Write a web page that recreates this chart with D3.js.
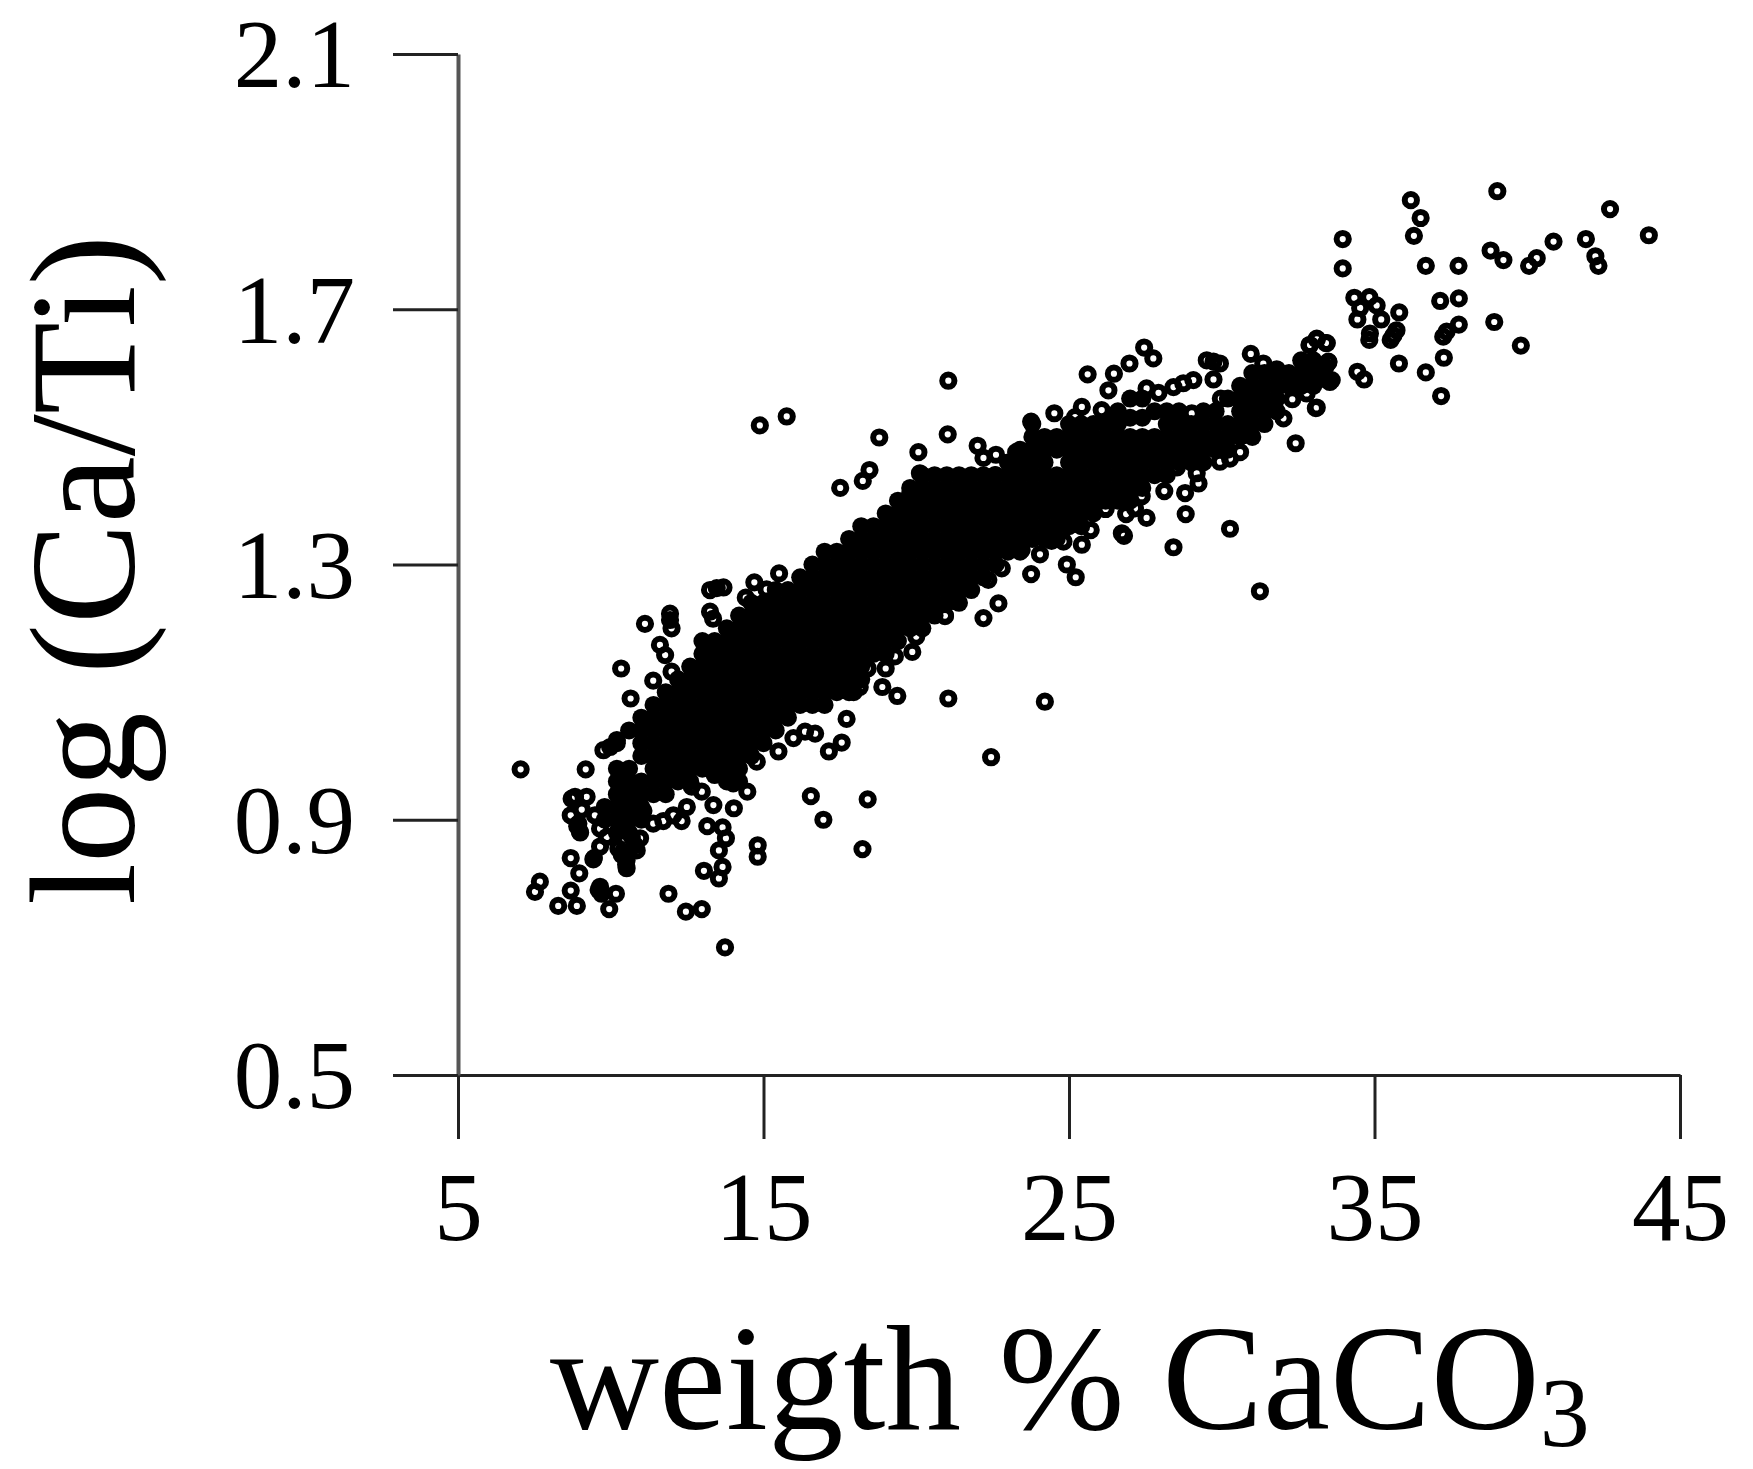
<!DOCTYPE html>
<html>
<head>
<meta charset="utf-8">
<script src="https://d3js.org/d3.v7.min.js"></script>
<style>
  body { margin: 0; background: #fff; }
  svg { display: block; filter: blur(0.5px); }
  text { font-family: "Liberation Serif", serif; fill: #000; }
  .tick text { font-size: 97px; }
  .title { font-size: 151px; }
</style>
</head>
<body>
<div class="scatter"></div>
<script>
/* tick labels */
const xTicks = [5, 15, 25, 35, 45];
const yTicks = [0.5, 0.9, 1.3, 1.7, 2.1];

/* single readable points, [wt% CaCO3, log(Ca/Ti)] */
const highEnd = [
  [39.02,1.885],[36.19,1.871],[36.51,1.843],[36.29,1.815],[33.96,1.810],[33.96,1.764],[36.68,1.768],[37.75,1.768],
  [42.71,1.857],[43.98,1.816],[41.92,1.810],[40.86,1.806],[38.80,1.792],[39.22,1.777],[40.31,1.780],[40.06,1.768],
  [42.23,1.783],[42.33,1.768],[34.34,1.718],[34.83,1.719],[35.07,1.706],[34.53,1.702],[34.44,1.684],[35.22,1.684],
  [35.81,1.695],[37.76,1.717],[37.15,1.713],[37.76,1.676],[37.36,1.665],[37.25,1.657],[38.92,1.680],[39.79,1.643],
  [37.27,1.624],[35.80,1.615],[36.68,1.601],[37.18,1.564],[34.85,1.662],[34.83,1.652],[35.72,1.667],[35.53,1.652],
  [35.62,1.659],[32.87,1.644],[33.11,1.654],[33.41,1.647],[34.44,1.602],[34.66,1.590],[33.08,1.545],[32.78,1.607],
  [33.49,1.618],[33.54,1.586],[33.21,1.594],[32.89,1.589],[32.78,1.568],[32.61,1.584]
];

const lowEnd = [
  [7.05,0.979],[9.18,0.979],[7.68,0.803],[7.52,0.787],[8.69,0.789],[8.28,0.765],[8.89,0.765],[8.69,0.840],
  [8.97,0.816],[9.65,0.795],[9.70,0.784],[10.17,0.784],[9.95,0.760],[9.43,0.838],[9.65,0.858],[9.65,0.886],
  [9.87,0.873],[8.69,0.907],[9.48,0.907],[8.83,0.936],[9.21,0.936],[9.05,0.916],[8.94,0.894],[8.99,0.881],
  [8.72,0.933],[10.52,0.824],[10.52,0.837],[10.25,0.855],[10.36,0.845],[10.85,0.852],[10.96,0.871],[10.69,0.873],
  [11.89,0.784],[12.46,0.756],[12.98,0.760],[13.74,0.700],[13.05,0.820],[13.54,0.808],[13.66,0.826],[13.54,0.852],
  [13.77,0.871],[13.66,0.888],[13.16,0.890],[13.36,0.923],[14.03,0.918],[14.81,0.860],[14.81,0.842],[16.55,0.937],
  [16.96,0.900],[18.24,0.854],[18.41,0.932],[11.39,0.894],[11.72,0.898],[12.05,0.907],[12.32,0.898],[12.49,0.920],
  [11.07,0.914],[10.08,0.913],[10.41,0.900]
];

const lowerEdge = [
  [17.72,1.058],[17.56,1.021],[17.14,1.007],[17.95,1.100],[18.15,1.108],[18.41,1.137],[19.00,1.137],[18.89,1.108],
  [19.38,1.094],[19.87,1.163],[19.30,1.156],[20.00,1.187],[20.94,1.219],[21.05,1.090],[24.21,1.085],[22.45,0.998],
  [12.65,0.952],[12.98,0.944],[14.47,0.944],[14.01,0.957],[14.78,0.991],[15.49,1.007],[15.98,1.028],[16.69,1.035],
  [16.36,1.038],[22.20,1.216],[22.69,1.239],[20.94,1.220],[22.36,1.276],[22.80,1.294],[23.76,1.285],[23.45,1.323],
  [24.05,1.316],[24.43,1.337],[24.82,1.336],[24.93,1.300],[25.22,1.280],[25.42,1.331],[25.71,1.354],[26.20,1.387],
  [26.73,1.349],[26.80,1.345],[26.87,1.379],[27.16,1.388],[27.38,1.407],[27.54,1.373],[28.12,1.415],[28.42,1.327],
  [28.53,1.452],[28.80,1.412],[28.82,1.379],[29.18,1.443],[29.24,1.427],[29.78,1.481],[29.94,1.461],[30.27,1.466],
  [30.27,1.356],[30.60,1.476],[31.25,1.258],[32.02,1.529],[32.42,1.490],[33.11,1.546],[32.31,1.559]
];

const upperEdge = [
  [11.12,1.207],[11.94,1.223],[11.94,1.213],[11.99,1.200],[11.61,1.174],[11.78,1.158],[11.99,1.132],[10.34,1.137],
  [11.39,1.118],[10.65,1.090],[9.98,1.014],[10.20,1.025],[9.76,1.009],[13.47,1.263],[13.25,1.260],[13.69,1.264],
  [13.25,1.226],[13.35,1.215],[14.70,1.272],[15.10,1.261],[14.42,1.248],[15.51,1.286],[14.88,1.518],[15.76,1.532],
  [18.79,1.499],[17.51,1.420],[18.25,1.431],[18.47,1.448],[21.05,1.588],[21.03,1.504],[20.07,1.476],[22.01,1.486],
  [22.20,1.467],[22.61,1.472],[23.27,1.476],[23.47,1.456],[22.58,1.440],[23.76,1.524],[24.52,1.537],[25.20,1.531],
  [25.42,1.547],[26.07,1.542],[26.29,1.526],[25.61,1.598],[26.47,1.599],[26.29,1.573],[26.98,1.615],[27.46,1.640],
  [27.76,1.623],[28.42,1.578],[27.93,1.569],[27.54,1.576],[29.73,1.618],[29.51,1.620],[29.94,1.615],[29.73,1.590],
  [29.07,1.589],[28.74,1.584],[30.95,1.630],[31.36,1.615],[31.80,1.606],[33.11,1.653],[32.89,1.644],[33.44,1.647],
  [33.49,1.617],[32.78,1.607],[33.60,1.589],[29.97,1.560],[30.58,1.559],[29.02,1.537],[19.80,1.410],[20.12,1.443]
];

/* the solid part of the cloud: the rings overlap so much here that no hole is left,
   so these are read as columns [x, y, y, ...] and drawn without the hole */
const coreColumns = [
  [8.9,.89],[9.0,.88],[9.45,.84],[9.6,.79],[9.8,.90],[9.8,.92],[10.4,.85],[10.5,.83],[10.8,.86],
  [10.2,.88,.90,.92,.94,.96,.98,1.02],
  [10.6,.88,.90,.92,.94,.96,.98,1.04],
  [11.0,.90,.92,.94,.96,1.00,1.02,1.04,1.06],
  [11.4,.94,.96,.98,1.00,1.02,1.04,1.06,1.08],
  [11.8,.94,.96,.98,1.00,1.02,1.04,1.06,1.08,1.10],
  [12.2,.96,.98,1.00,1.02,1.04,1.06,1.08,1.10,1.12],
  [12.6,.96,.98,1.00,1.02,1.04,1.06,1.08,1.10,1.12,1.14],
  [13.0,.98,1.00,1.02,1.04,1.06,1.08,1.10,1.12,1.14,1.16,1.18],
  [13.4,.97,.99,1.01,1.03,1.05,1.07,1.09,1.11,1.13,1.15,1.17,1.18],
  [13.8,.96,.98,1.00,1.02,1.04,1.06,1.08,1.10,1.12,1.14,1.16,1.18,1.20],
  [14.2,.96,.98,1.00,1.02,1.04,1.06,1.08,1.10,1.12,1.14,1.16,1.18,1.20,1.22],
  [14.6,1.00,1.02,1.04,1.06,1.08,1.10,1.12,1.14,1.16,1.18,1.20,1.22,1.24],
  [15.0,1.02,1.04,1.06,1.08,1.10,1.12,1.14,1.16,1.18,1.20,1.22,1.24],
  [15.4,1.04,1.06,1.08,1.10,1.12,1.14,1.16,1.18,1.20,1.22,1.24,1.26],
  [15.8,1.06,1.08,1.10,1.12,1.14,1.16,1.18,1.20,1.22,1.24,1.26],
  [16.2,1.08,1.10,1.12,1.14,1.16,1.18,1.20,1.22,1.24,1.26,1.28],
  [16.6,1.08,1.10,1.12,1.14,1.16,1.18,1.20,1.22,1.24,1.26,1.28,1.30],
  [17.0,1.08,1.10,1.12,1.14,1.16,1.18,1.20,1.22,1.24,1.26,1.28,1.30,1.32],
  [17.4,1.10,1.12,1.14,1.16,1.18,1.20,1.22,1.24,1.26,1.28,1.30,1.32],
  [17.8,1.10,1.12,1.14,1.16,1.18,1.20,1.22,1.24,1.26,1.28,1.30,1.32,1.34],
  [18.2,1.12,1.14,1.16,1.18,1.20,1.22,1.24,1.26,1.28,1.30,1.32,1.34,1.36],
  [18.6,1.16,1.18,1.20,1.22,1.24,1.26,1.28,1.30,1.32,1.34,1.36],
  [19.0,1.16,1.18,1.20,1.22,1.24,1.26,1.28,1.30,1.32,1.34,1.36,1.38],
  [19.4,1.18,1.20,1.22,1.24,1.26,1.28,1.30,1.32,1.34,1.36,1.38,1.40],
  [19.8,1.20,1.22,1.24,1.26,1.28,1.30,1.32,1.34,1.36,1.38,1.40,1.42],
  [20.2,1.20,1.22,1.24,1.26,1.28,1.30,1.32,1.34,1.36,1.38,1.40,1.42,1.44],
  [20.6,1.22,1.24,1.26,1.28,1.30,1.32,1.34,1.36,1.38,1.40,1.42,1.44],
  [21.0,1.24,1.26,1.28,1.30,1.32,1.34,1.36,1.38,1.40,1.42,1.44],
  [21.4,1.24,1.26,1.28,1.30,1.32,1.34,1.36,1.38,1.40,1.42,1.44],
  [21.8,1.26,1.28,1.30,1.32,1.34,1.36,1.38,1.40,1.42,1.44],
  [22.2,1.28,1.30,1.32,1.34,1.36,1.38,1.40,1.42,1.44],
  [22.6,1.30,1.32,1.34,1.36,1.38,1.40,1.42,1.44],
  [23.0,1.32,1.34,1.36,1.38,1.40,1.42,1.44,1.46],
  [23.4,1.32,1.34,1.36,1.38,1.40,1.42,1.44,1.46,1.48],
  [23.8,1.34,1.36,1.38,1.40,1.42,1.44,1.46,1.48,1.50,1.52],
  [24.2,1.34,1.36,1.38,1.40,1.42,1.44,1.46,1.48,1.50],
  [24.6,1.34,1.36,1.38,1.40,1.42,1.44,1.48,1.50],
  [25.0,1.36,1.38,1.40,1.42,1.44,1.46,1.48,1.50,1.52],
  [25.4,1.36,1.38,1.40,1.42,1.44,1.46,1.48,1.50,1.52],
  [25.8,1.38,1.40,1.42,1.44,1.46,1.48,1.50,1.52],
  [26.2,1.40,1.42,1.44,1.46,1.48,1.50,1.52],
  [26.6,1.40,1.42,1.44,1.46,1.48,1.50,1.52,1.54],
  [27.0,1.40,1.42,1.44,1.46,1.48,1.50,1.53,1.56],
  [27.4,1.42,1.44,1.46,1.48,1.50,1.53,1.56],
  [27.8,1.44,1.46,1.48,1.50,1.54],
  [28.2,1.44,1.46,1.48,1.50,1.52,1.54],
  [28.6,1.46,1.48,1.50,1.52,1.54],
  [29.0,1.46,1.48,1.50,1.52],
  [29.4,1.46,1.48,1.50,1.52,1.54],
  [29.8,1.48,1.50,1.52,1.54],
  [30.2,1.48,1.50,1.52,1.56],
  [30.6,1.50,1.52,1.54,1.56,1.58],
  [31.0,1.50,1.52,1.54,1.56,1.58,1.60],
  [31.4,1.52,1.54,1.56,1.58,1.60],
  [31.8,1.54,1.56,1.58,1.60],
  [32.2,1.58,1.60],
  [32.6,1.58,1.60,1.62],
  [33.0,1.58,1.60,1.62],
  [33.4,1.59,1.61]
];

/* chart frame */
const width = 1753;
const height = 1469;

const svg = d3.select(".scatter")
  .append("svg")
  .attr("width", width)
  .attr("height", height);

/* scales */
const xScale = d3.scaleLinear().domain([5, 45]).range([458, 1680]);
const yScale = d3.scaleLinear().domain([0.5, 2.1]).range([1075, 54]);

/* axes */
const xAxis = d3.axisBottom(xScale)
  .tickValues(xTicks)
  .tickFormat(d3.format("d"))
  .tickSize(64)
  .tickSizeOuter(0)
  .tickPadding(32);

const yAxis = d3.axisLeft(yScale)
  .tickValues(yTicks)
  .tickFormat(d3.format(".1f"))
  .tickSize(65)
  .tickSizeOuter(0)
  .tickPadding(38);

const xG = svg.append("g")
  .attr("transform", `translate(0, ${yScale(0.5)})`)
  .call(xAxis);

const yG = svg.append("g")
  .attr("transform", `translate(${xScale(5)}, 0)`)
  .call(yAxis);

xG.selectAll(".domain").attr("stroke", "#222").attr("stroke-width", 3);
xG.selectAll(".tick line").attr("stroke", "#222").attr("stroke-width", 3);
yG.selectAll(".domain").attr("stroke", "#555").attr("stroke-width", 4);
yG.selectAll(".tick line").attr("stroke", "#222").attr("stroke-width", 3);
yG.selectAll(".tick text").attr("dy", "0.34em");
xG.attr("font-family", null).attr("font-size", null);
yG.attr("font-family", null).attr("font-size", null);

/* solid core */
const corePoints = coreColumns.flatMap(c => c.slice(1).map(y => [c[0], y]));

svg.append("g")
  .selectAll("circle")
  .data(corePoints)
  .join("circle")
  .attr("cx", d => xScale(d[0]))
  .attr("cy", d => yScale(d[1]))
  .attr("r", 9)
  .attr("fill", "#000");

/* rings */
svg.append("g")
  .selectAll("circle")
  .data([...highEnd, ...lowEnd, ...lowerEdge, ...upperEdge])
  .join("circle")
  .attr("cx", d => xScale(d[0]))
  .attr("cy", d => yScale(d[1]))
  .attr("r", 6.1)
  .attr("fill", "none")
  .attr("stroke", "#000")
  .attr("stroke-width", 6);

/* axis titles */
const xTitle = svg.append("text")
  .attr("class", "title")
  .attr("x", 550)
  .attr("y", 1429);
xTitle.append("tspan").text("weigth % CaCO");
xTitle.append("tspan").attr("dy", 17).style("font-size", "100px").text("3");

svg.append("text")
  .attr("class", "title")
  .attr("transform", "translate(134, 570) rotate(-90)")
  .style("text-anchor", "middle")
  .text("log (Ca/Ti)");
</script>
</body>
</html>
